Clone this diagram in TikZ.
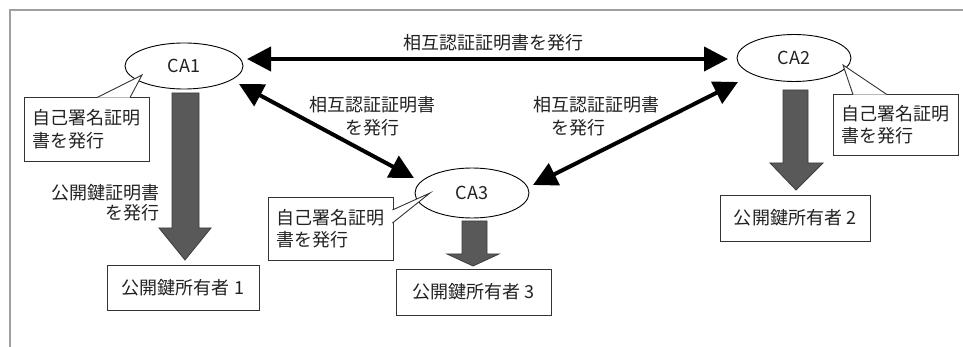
\documentclass[tikz,border=0pt]{standalone}
\usepackage{fontspec}
\setmainfont{Noto Sans CJK JP}
\usetikzlibrary{shapes.geometric,arrows.meta,calc}
\definecolor{arrgray}{RGB}{89,89,89}
\definecolor{arrdark}{RGB}{60,60,60}
\definecolor{txt}{RGB}{34,34,34}
\begin{document}
\begin{tikzpicture}[x=1pt,y=-1pt,
  every node/.style={text=txt},
  jp/.style={font=\fontsize{18}{22.5}\selectfont},
  ca/.style={ellipse, draw=black, line width=0.9pt, fill=white, inner sep=0pt, jp},
  ownbox/.style={rectangle, draw=black!80, line width=0.9pt, fill=white, inner sep=0pt, jp},
  callbox/.style={ownbox, align=left},
  ptr/.style={draw=black!80, line width=0.9pt, fill=white, line join=miter},
  biarrow/.style={line width=4pt, {Triangle[length=24pt,width=24pt]}-{Triangle[length=24pt,width=24pt]}},
  blockarr/.style={fill=arrgray, draw=arrdark, line width=0.8pt, line join=miter},
  lbl/.style={jp, inner sep=0pt}
]
\useasboundingbox (0,0) rectangle (963,347);
\fill[white] (0,0) rectangle (963,347);
% frame
\draw[gray!75, line width=1.5pt] (10,347) -- (10,10) -- (963,10);

% CA nodes
\node[ca, minimum width=118pt, minimum height=46pt] (ca1) at (184,66) {CA1};
\node[ca, minimum width=114pt, minimum height=47pt] (ca2) at (794,58) {CA2};
\node[ca, minimum width=114pt, minimum height=50pt] (ca3) at (472,193) {CA3};

% callouts
\node[callbox, minimum width=125pt, minimum height=64pt] (n1) at (86.5,129) {自己署名証明\\書を発行};
\draw[ptr] (97,97.6) -- (142,75) -- (130,97.6);
\node[callbox, minimum width=125pt, minimum height=63pt] (n3) at (330.5,228.5) {自己署名証明\\書を発行};
\draw[ptr] (392.4,210) -- (430,193) -- (392.4,223);
\node[callbox, minimum width=125pt, minimum height=61pt] (n2) at (895.5,124.5) {自己署名証明\\書を発行};
\draw[ptr] (853,94.6) -- (843,65) -- (887,94.6);

% owners
\node[ownbox, minimum width=152pt, minimum height=45pt] (o1) at (183,287.5) {公開鍵所有者 1};
\node[ownbox, minimum width=150pt, minimum height=46pt] (o2) at (795,218) {公開鍵所有者 2};
\node[ownbox, minimum width=155pt, minimum height=46pt] (o3) at (473.5,292) {公開鍵所有者 3};

% block arrows
\draw[blockarr] (172,93) -- (199,93) -- (199,228) -- (211,228) -- (185,260) -- (159,228) -- (172,228) -- cycle;
\draw[blockarr] (783,90) -- (808,90) -- (808,163) -- (823,163) -- (796,190) -- (770,163) -- (783,163) -- cycle;
\draw[blockarr] (462,221) -- (487,221) -- (487,254) -- (499,254) -- (473,266) -- (447,254) -- (462,254) -- cycle;

% mutual certification arrows
\draw[biarrow] ($(ca1)+(63,-7)$) -- ($(ca2)+(-66,1)$);
\draw[biarrow] ($(ca1)+(55,18)$) -- ($(ca3)+(-58,-15)$);
\draw[biarrow] ($(ca2)+(-56,24)$) -- ($(ca3)+(61,-8)$);

% labels
\node[lbl] (l12) at (493,43) {相互認証証明書を発行};
\node[lbl, align=center] (l13) at (372,116) {相互認証証明書\\を発行};
\node[lbl, align=left, anchor=west] (l23) at (533,116) {相互認証証明書\\\hspace{1em}を発行};
\node[lbl, align=right, anchor=east, font=\fontsize{18}{20}\selectfont] (lk) at (160,203) {公開鍵証明書\\を発行};
\end{tikzpicture}
\end{document}
